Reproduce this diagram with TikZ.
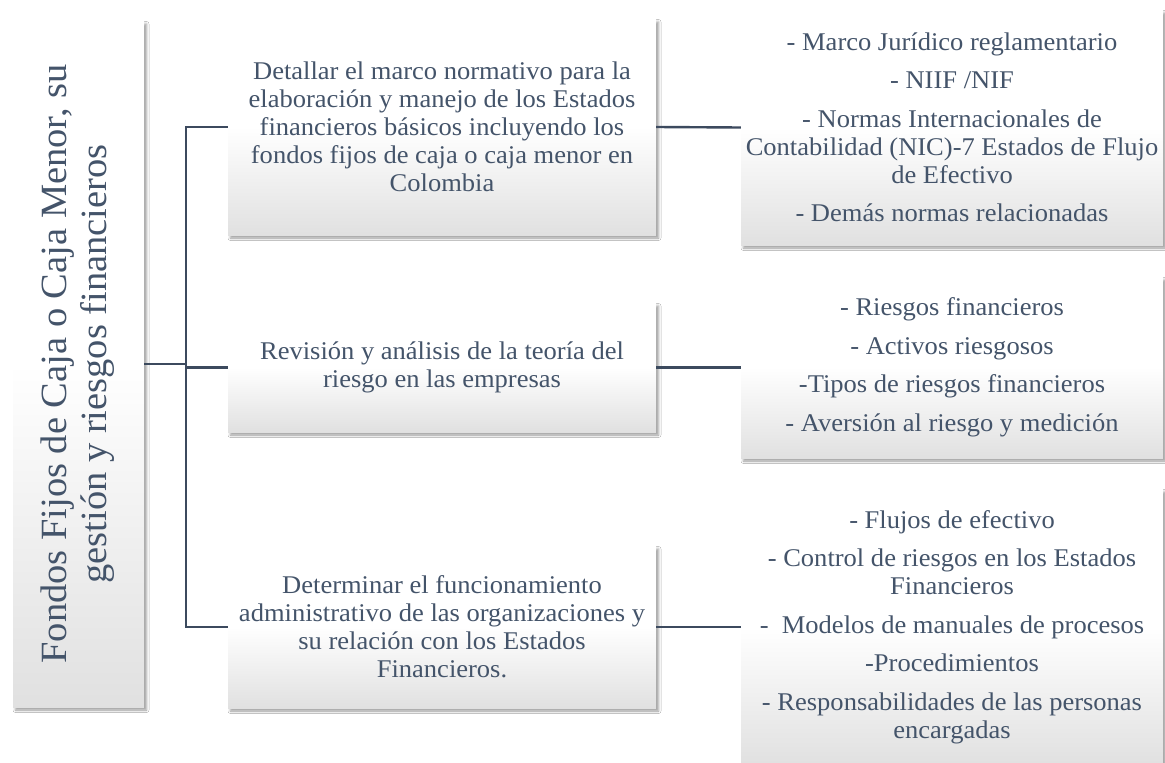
\documentclass[tikz,border=0pt]{standalone}
\usepackage{fontspec}
\setmainfont{Liberation Serif}
\newfontfamily\boxfont{Liberation Serif}[FakeStretch=1.04]
\usetikzlibrary{shadows.blur}
\definecolor{txt}{HTML}{44546A}
\definecolor{ln}{HTML}{3C4A5E}
\tikzset{
  box/.style={rectangle, inner sep=0pt, align=center, text=txt,
    top color=white, bottom color=black!12, middle color=white,
    blur shadow={shadow xshift=2.5pt, shadow yshift=-3pt, shadow blur radius=2.5pt, shadow opacity=40},
    font=\boxfont\fontsize{25.5}{28}\selectfont},
  midbox/.style={box, minimum width=428},
  rbox/.style={box, minimum width=422},
  conn/.style={draw=ln, line width=2.4pt}
}
\begin{document}
\begin{tikzpicture}[x=1pt, y=-1pt]
\useasboundingbox (0,0) rectangle (1165,763);
\fill[white] (0,0) rectangle (1165,763);
\coordinate (sp) at (186,0);
% root
\node[box, minimum width=131, minimum height=686] (root) at (78.5,364)
  {\rotatebox{90}{\fontsize{37}{39.5}\selectfont\begin{tabular}{@{}c@{}}Fondos Fijos de Caja o Caja Menor, su\\gestión y riesgos financieros\end{tabular}}};
% middle boxes
\node[midbox, minimum height=216] (b1) at (442,127)
  {Detallar el marco normativo para la\\elaboración y manejo de los Estados\\financieros básicos incluyendo los\\fondos fijos de caja o caja menor en\\Colombia};
\node[midbox, minimum height=129] (b2) at (442,367.5)
  {Revisión y análisis de la teoría del\\riesgo en las empresas};
\node[midbox, minimum height=162] (b3) at (442,627)
  {Determinar el funcionamiento\\administrativo de las organizaciones y\\su relación con los Estados\\Financieros.};
% right boxes
\node[rbox, minimum height=235] (ra) at (952,127.5)
  {- Marco Jurídico reglamentario\\[10.5pt]- NIIF /NIF\\[10.5pt]- Normas Internacionales de\\Contabilidad (NIC)-7 Estados de Flujo\\de Efectivo\\[10.5pt]- Demás normas relacionadas};
\node[rbox, minimum height=181] (rb) at (952,367.5)
  {- Riesgos financieros\\[10.5pt]- Activos riesgosos\\[10.5pt]-Tipos de riesgos financieros\\[10.5pt]- Aversión al riesgo y medición};
\node[rbox, minimum height=276] (rc) at (952,627)
  {- Flujos de efectivo\\[10.5pt]- Control de riesgos en los Estados\\Financieros\\[10.5pt]-\ \ Modelos de manuales de procesos\\[10.5pt]-Procedimientos\\[10.5pt]- Responsabilidades de las personas\\encargadas};
% connectors
\draw[conn] (root.east) -- (root.east -| sp);
\draw[conn] (b1.west) -- (b1.west -| sp) -- (b3.west -| sp) -- (b3.west);
\draw[conn] (b2.west -| sp) -- (b2.west);
\draw[conn] (b1.east) -- (ra.west);
\draw[conn] (b2.east) -- (rb.west);
\draw[conn] (b3.east) -- (rc.west);
\end{tikzpicture}
\end{document}
